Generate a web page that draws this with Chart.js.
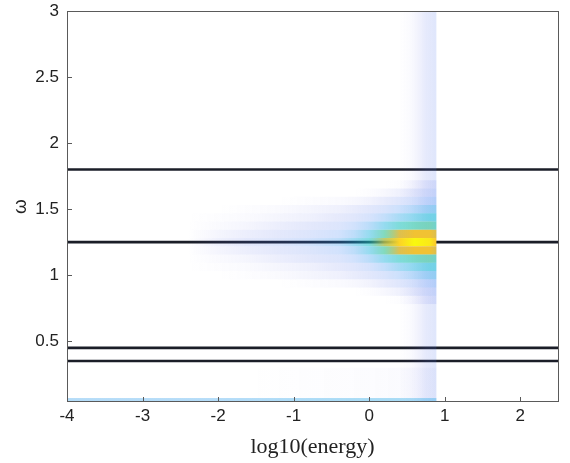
<!DOCTYPE html>
<html>
<head>
<meta charset="utf-8">
<title>Spectral weight vs energy</title>
<script src="https://cdn.jsdelivr.net/npm/chart.js@4.4.1/dist/chart.umd.min.js"></script>
<style>
  html, body { margin: 0; padding: 0; background: #ffffff; }
  canvas { display: block; }
</style>
</head>
<body>
<canvas id="c" width="570" height="463"></canvas>
<script>
// Axis ticks
const energyTicks = [-4, -3, -2, -1, 0, 1, 2];
const omegaTicks = [0.5, 1, 1.5, 2, 2.5, 3];

// Mode frequencies drawn as horizontal reference lines
const modeLevels = [1.8, 1.25, 0.45, 0.35];

// Main spectral peak: column centres (log10 energy) and row centres (omega)
const energyCols = [-2.4, -2.0, -1.6, -1.2, -0.8, -0.4, -0.2, 0.0, 0.2, 0.4, 0.6, 0.8, 0.89];
const omegaRows = [1.6875, 1.625, 1.5625, 1.5, 1.4375, 1.375, 1.3125, 1.25,
                   1.1875, 1.125, 1.0625, 1.0, 0.9375, 0.875, 0.8125];
const omegaStep = 0.0625;
const intensity = [
  [0, 0, 0, 0, 0, 0, 0, 0, 0, 0.005, 0.02, 0.035, 0.04],
  [0, 0, 0, 0, 0, 0, 0, 0.005, 0.015, 0.03, 0.05, 0.07, 0.08],
  [0, 0, 0, 0, 0.005, 0.01, 0.015, 0.025, 0.04, 0.07, 0.10, 0.13, 0.15],
  [0, 0, 0.005, 0.01, 0.02, 0.03, 0.04, 0.06, 0.09, 0.14, 0.20, 0.25, 0.27],
  [0, 0.005, 0.01, 0.02, 0.03, 0.045, 0.065, 0.10, 0.17, 0.26, 0.33, 0.38, 0.38],
  [0, 0.01, 0.02, 0.035, 0.05, 0.08, 0.12, 0.20, 0.32, 0.44, 0.50, 0.52, 0.48],
  [0, 0.02, 0.035, 0.05, 0.08, 0.12, 0.19, 0.32, 0.52, 0.74, 0.82, 0.82, 0.74],
  [0, 0.03, 0.05, 0.08, 0.12, 0.19, 0.29, 0.42, 0.68, 0.90, 1.00, 0.96, 0.86],
  [0, 0.02, 0.035, 0.05, 0.08, 0.12, 0.19, 0.32, 0.52, 0.74, 0.82, 0.82, 0.74],
  [0, 0.01, 0.02, 0.035, 0.05, 0.08, 0.12, 0.20, 0.32, 0.44, 0.50, 0.52, 0.48],
  [0, 0.005, 0.01, 0.02, 0.03, 0.045, 0.065, 0.10, 0.17, 0.26, 0.33, 0.38, 0.38],
  [0, 0, 0.005, 0.01, 0.02, 0.03, 0.04, 0.06, 0.09, 0.14, 0.20, 0.25, 0.27],
  [0, 0, 0, 0, 0.005, 0.01, 0.015, 0.025, 0.04, 0.07, 0.10, 0.13, 0.15],
  [0, 0, 0, 0, 0, 0, 0, 0.005, 0.015, 0.03, 0.05, 0.07, 0.08],
  [0, 0, 0, 0, 0, 0, 0, 0, 0, 0.005, 0.02, 0.035, 0.04]
];

// Broad background weight near the upper energy cut-off (all omega)
const stripeCols = [0.40, 0.55, 0.65, 0.75, 0.89];
const stripeLevel = [0, 0.01, 0.025, 0.045, 0.07];

// Faint low-omega haze and the lowest omega bin
const hazeCols = [-1.6, -0.8, 0.0, 0.5, 0.89];
const hazeLevel = [0, 0.003, 0.006, 0.01, 0.01];
const baseCols = [-4, -2, -1, 0, 0.89];
const baseLevel = [0.22, 0.22, 0.24, 0.26, 0.26];

const omegaMin = 0.04, omegaMax = 3;
const energyMin = -4, energyMax = 2.5;

// parula-style colour map
const parula = [
  [0.00, [95, 95, 225]],
  [0.12, [60, 130, 245]],
  [0.25, [30, 160, 232]],
  [0.38, [15, 190, 212]],
  [0.50, [55, 200, 170]],
  [0.62, [140, 200, 100]],
  [0.75, [225, 185, 60]],
  [0.87, [253, 200, 45]],
  [1.00, [249, 248, 14]]
];
function colorFor(v) {
  v = Math.max(0, Math.min(1, v));
  let rgb = parula[parula.length - 1][1];
  for (let i = 1; i < parula.length; i++) {
    if (v <= parula[i][0]) {
      const [t0, c0] = parula[i - 1], [t1, c1] = parula[i];
      const f = (v - t0) / (t1 - t0);
      rgb = c0.map((c, k) => Math.round(c + (c1[k] - c) * f));
      break;
    }
  }
  const a = v <= 0 ? 0 : Math.min(1, v < 0.05 ? 3.2 * v : 0.1 + 1.1 * v);
  return `rgba(${rgb[0]},${rgb[1]},${rgb[2]},${a.toFixed(3)})`;
}

function drawBand(ctx, xs, ys, cols, vals, w0, w1) {
  const px = cols.map(c => xs.getPixelForValue(c));
  const left = px[0], right = px[px.length - 1];
  const g = ctx.createLinearGradient(left, 0, right, 0);
  cols.forEach((c, i) => g.addColorStop((px[i] - left) / (right - left), colorFor(vals[i])));
  const top = ys.getPixelForValue(w1), bottom = ys.getPixelForValue(w0);
  ctx.fillStyle = g;
  ctx.fillRect(left, top, right - left, bottom - top);
}

const heatmapPlugin = {
  id: 'heatmap',
  afterDatasetsDraw(chart) {
    const { ctx, chartArea: a, scales: { x, y } } = chart;
    ctx.save();
    ctx.beginPath();
    ctx.rect(a.left, a.top, a.right - a.left, a.bottom - a.top);
    ctx.clip();
    drawBand(ctx, x, y, stripeCols, stripeLevel, omegaMin, omegaMax);
    drawBand(ctx, x, y, hazeCols, hazeLevel, 0.07, 0.3);
    omegaRows.forEach((w, i) => {
      drawBand(ctx, x, y, energyCols, intensity[i], w - omegaStep / 2, w + omegaStep / 2);
    });
    drawBand(ctx, x, y, baseCols, baseLevel, omegaMin, 0.07);
    ctx.restore();
  },
  afterDraw(chart) {
    const { ctx, chartArea: a, scales: { x, y } } = chart;
    ctx.save();
    ctx.strokeStyle = '#5a5a5a';
    ctx.lineWidth = 1;
    ctx.beginPath();
    energyTicks.forEach(v => {
      const px = Math.round(x.getPixelForValue(v)) + 0.5;
      ctx.moveTo(px, a.bottom);
      ctx.lineTo(px, a.bottom - 5);
    });
    omegaTicks.forEach(v => {
      const py = Math.round(y.getPixelForValue(v)) + 0.5;
      ctx.moveTo(a.left, py);
      ctx.lineTo(a.left + 5, py);
    });
    ctx.stroke();
    ctx.strokeRect(Math.round(a.left) + 0.5, Math.round(a.top) + 0.5,
                   Math.round(a.right - a.left), Math.round(a.bottom - a.top) - 1);
    ctx.restore();
  }
};

const lineDatasets = modeLevels.map(level => ({
  data: [{ x: energyMin, y: level }, { x: energyMax, y: level }],
  showLine: true,
  borderColor: '#1b1e28',
  borderWidth: 2.6,
  pointRadius: 0,
  fill: false
}));

Chart.defaults.font.family = '"Liberation Sans", Arial, sans-serif';
Chart.defaults.color = '#222222';

new Chart(document.getElementById('c'), {
  type: 'scatter',
  data: { datasets: lineDatasets },
  options: {
    responsive: false,
    animation: false,
    layout: { padding: { top: 11, right: 12, left: 0, bottom: 0 } },
    plugins: { legend: { display: false }, tooltip: { enabled: false } },
    scales: {
      x: {
        type: 'linear',
        min: energyMin,
        max: energyMax,
        afterBuildTicks: s => { s.ticks = energyTicks.map(v => ({ value: v })); },
        afterFit: s => { s.height = 61; s.paddingLeft = 0; s.paddingRight = 0; },
        grid: { display: false, drawTicks: false },
        border: { display: false },
        ticks: { font: { size: 17 }, color: '#222', padding: 4, maxRotation: 0,
                 callback: v => String(v) },
        title: {
          display: true,
          text: 'log10(energy)',
          font: { family: '"Liberation Serif", "Times New Roman", serif', size: 22 },
          color: '#222',
          padding: { top: 0, bottom: 3 }
        }
      },
      y: {
        type: 'linear',
        min: omegaMin,
        max: omegaMax,
        afterBuildTicks: s => { s.ticks = omegaTicks.map(v => ({ value: v })); },
        afterFit: s => { s.width = 67; s.paddingTop = 0; s.paddingBottom = 0; },
        grid: { display: false, drawTicks: false },
        border: { display: false },
        ticks: { font: { size: 17 }, color: '#222', padding: 8,
                 callback: v => String(v) },
        title: {
          display: true,
          text: 'ω',
          font: { size: 19 },
          color: '#222',
          padding: { top: 9, bottom: 0 }
        }
      }
    }
  },
  plugins: [heatmapPlugin]
});
</script>
</body>
</html>
